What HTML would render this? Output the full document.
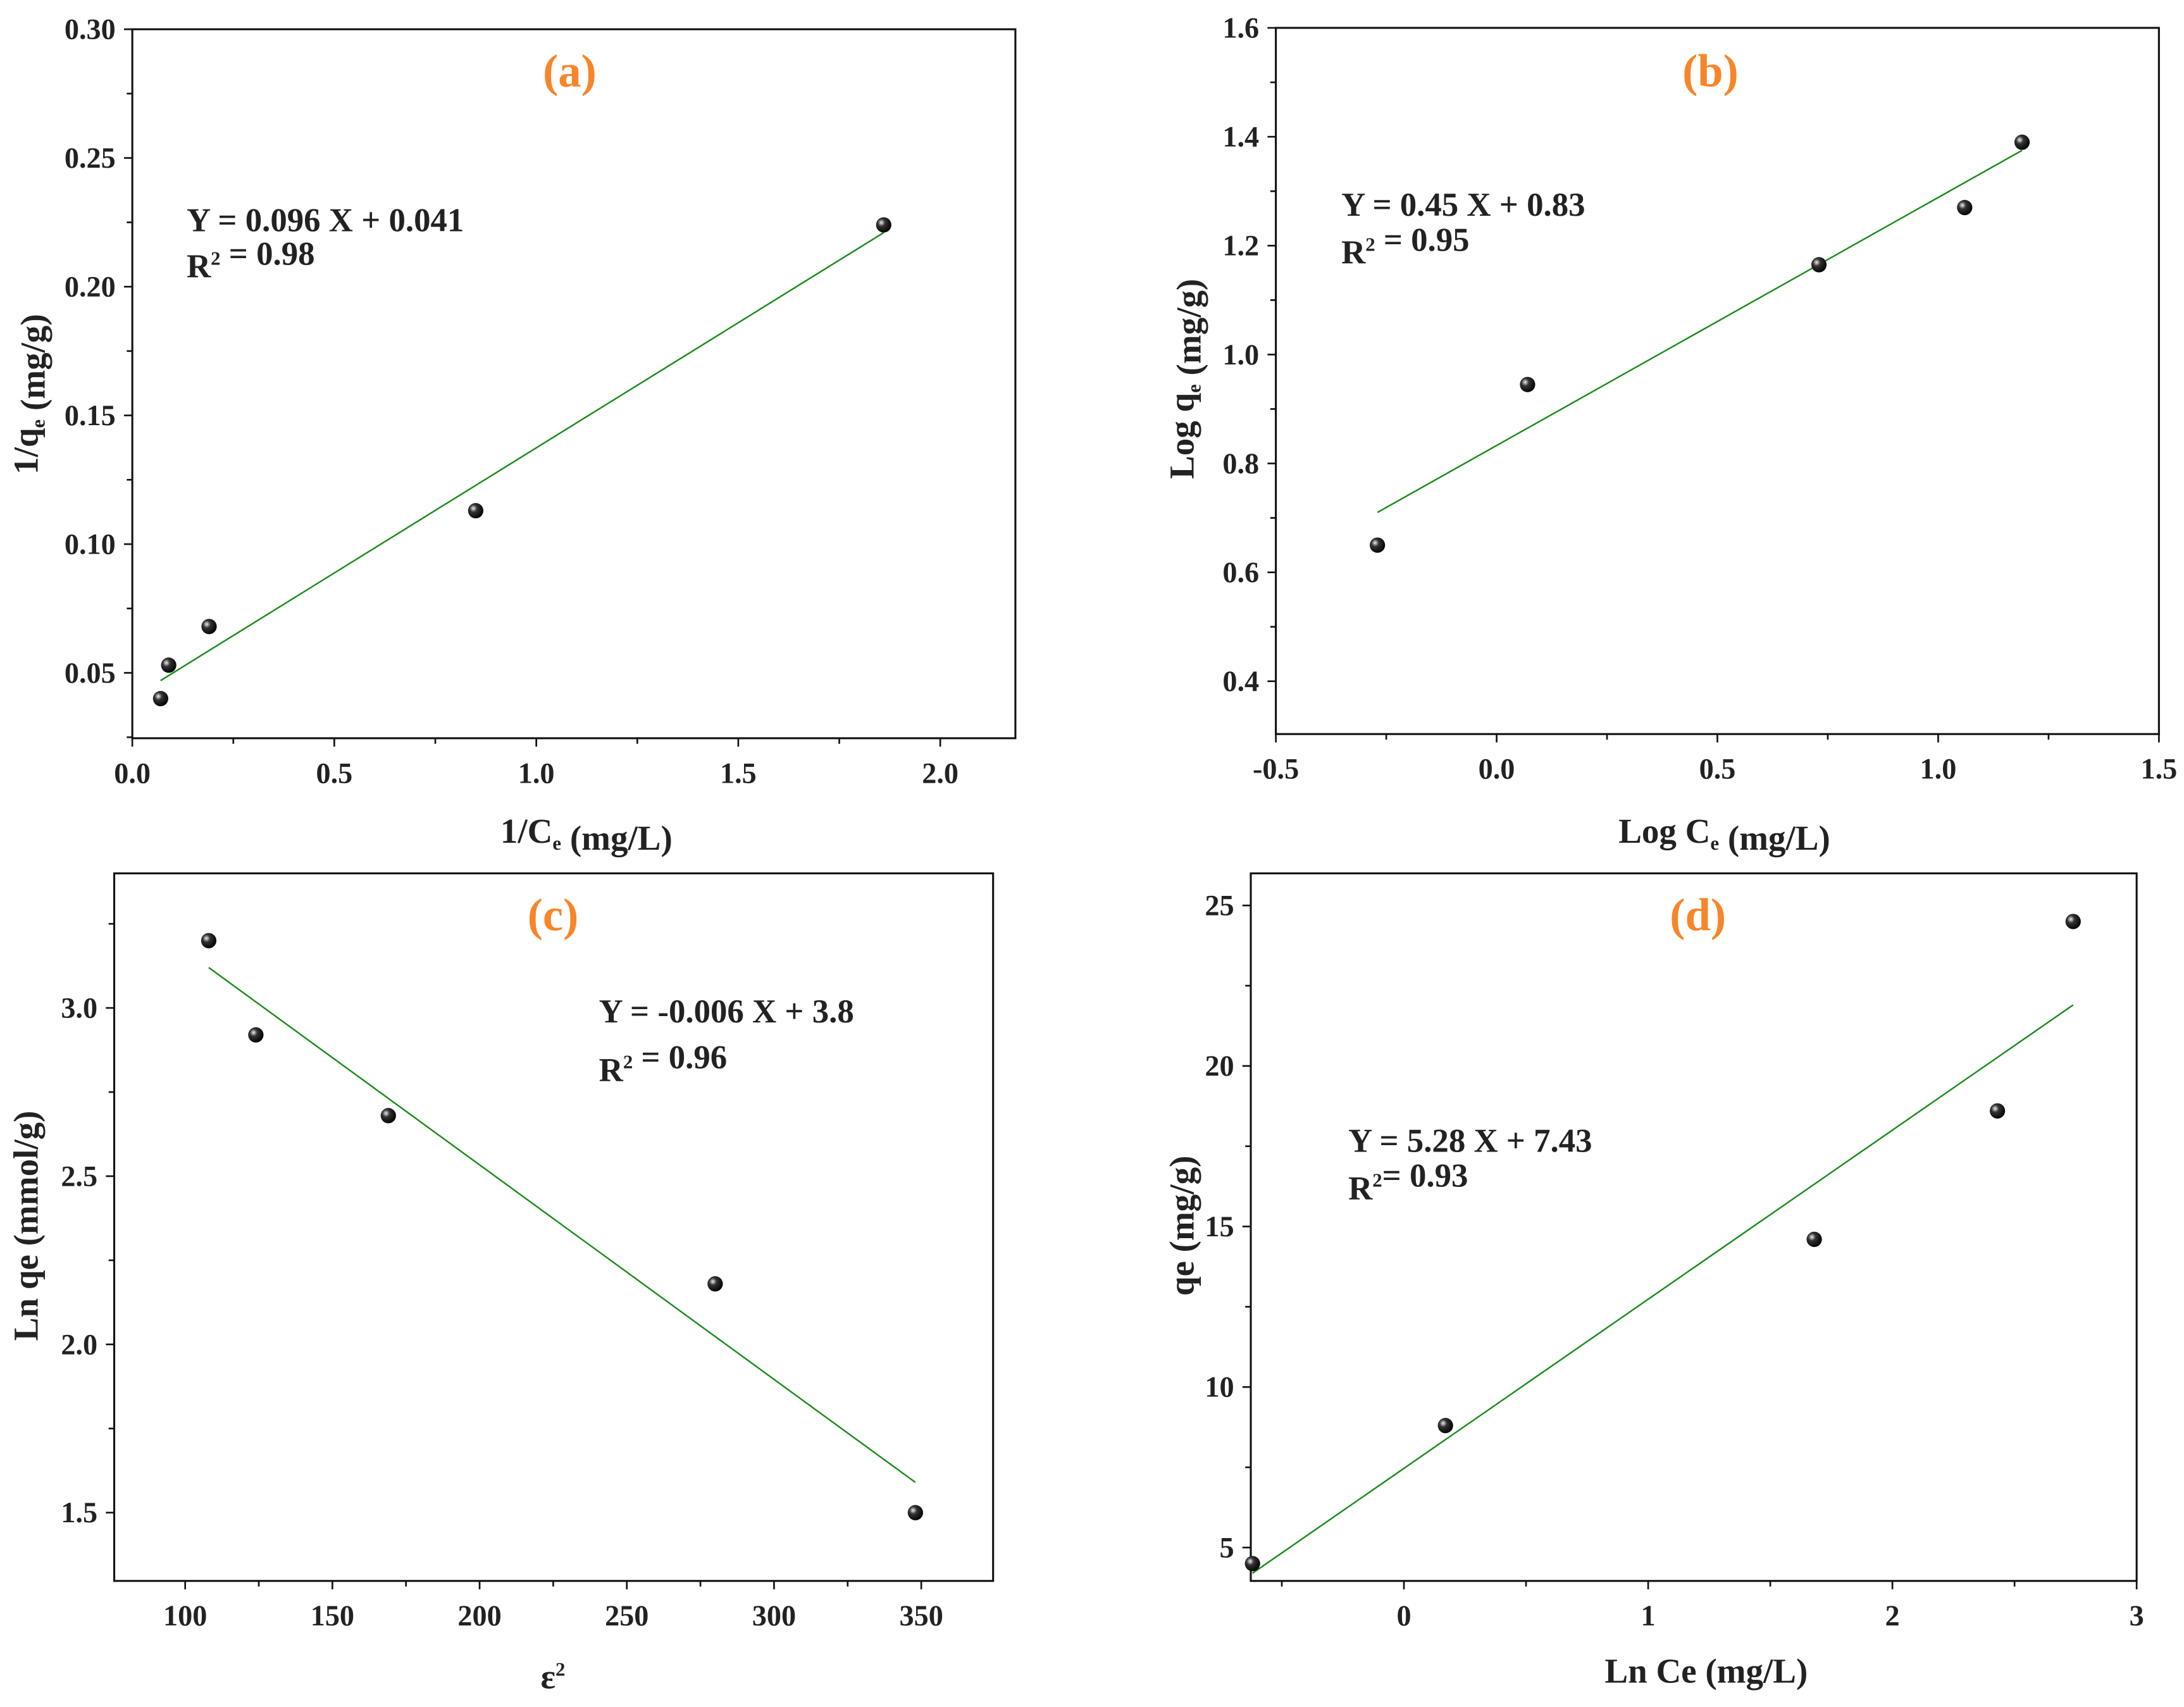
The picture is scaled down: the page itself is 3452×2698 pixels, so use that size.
<!DOCTYPE html>
<html><head><meta charset="utf-8"><style>
html,body{margin:0;padding:0;background:#fff}
svg{display:block}
text{font-family:"Liberation Serif",serif;font-weight:bold;fill:#222}
</style></head><body>
<svg id="s" width="3452" height="2698" viewBox="0 0 1568 1225.5" xmlns="http://www.w3.org/2000/svg">
<defs><radialGradient id="ball" cx="0.35" cy="0.35" r="0.7"><stop offset="0" stop-color="#eee"/><stop offset="0.35" stop-color="#333"/><stop offset="1" stop-color="#000"/></radialGradient></defs>
</svg>
<script>
// Panel a
const aX=[0.07,0.09,0.19,0.85,1.86];
const aY=[0.040,0.053,0.068,0.113,0.224];
const aFitX=[0.07,1.86];
const aFitY=[0.047,0.221];
const aXTicks=["0.0","0.5","1.0","1.5","2.0"];
const aYTicks=["0.05","0.10","0.15","0.20","0.25","0.30"];
// Panel b
const bX=[-0.27,0.07,0.73,1.06,1.19];
const bY=[0.65,0.945,1.165,1.27,1.39];
const bFitX=[-0.27,1.19];
const bFitY=[0.71,1.375];
const bXTicks=["-0.5","0.0","0.5","1.0","1.5"];
const bYTicks=["0.4","0.6","0.8","1.0","1.2","1.4","1.6"];
// Panel c
const cX=[108,124,169,280,348];
const cY=[3.2,2.92,2.68,2.18,1.50];
const cFitX=[108,348];
const cFitY=[3.12,1.59];
const cXTicks=["100","150","200","250","300","350"];
const cYTicks=["1.5","2.0","2.5","3.0"];
// Panel d
const dX=[-0.62,0.17,1.68,2.43,2.74];
const dY=[4.5,8.8,14.6,18.6,24.5];
const dFitX=[-0.62,2.74];
const dFitY=[4.2,21.9];
const dXTicks=["0","1","2","3"];
const dYTicks=["5","10","15","20","25"];

const svg=document.getElementById('s');
const NS='http://www.w3.org/2000/svg';
function mk(tag,at,parent){const e=document.createElementNS(NS,tag);for(const k in at)e.setAttribute(k,at[k]);(parent||svg).appendChild(e);return e;}

function panel(cfg){
  const g=mk('g',{});
  
  
  const sx=v=>cfg.L+(v-cfg.x0)/(cfg.x1-cfg.x0)*(cfg.R-cfg.L);
  const sy=v=>cfg.B-(v-cfg.y0)/(cfg.y1-cfg.y0)*(cfg.B-cfg.T);
  const box=mk('rect',{x:cfg.L,y:cfg.T,width:cfg.R-cfg.L,height:cfg.B-cfg.T,fill:'none',stroke:'#111','stroke-width':1.4},g);
  
  
  for(let v=cfg.xm0; v<=cfg.x1+1e-9; v+=cfg.xmStep){
    const px=sx(v); if(px<cfg.L-0.5) continue;
    const major=Math.abs(((v-cfg.xt0)/cfg.xtStep)-Math.round((v-cfg.xt0)/cfg.xtStep))<1e-6;
    const t=mk('line',{x1:px,x2:px,y1:cfg.B,y2:cfg.B+(major?6:4),stroke:'#111','stroke-width':1.2},g);
    
    
  }
  cfg.xticks.forEach((s,i)=>{
    const v=cfg.xt0+i*cfg.xtStep;
    const t=mk('text',{x:sx(v),y:cfg.B+32,'text-anchor':'middle','font-size':21},g);t.textContent=s;
    
    
  });
  for(let v=cfg.ym0; v<=cfg.y1+1e-9; v+=cfg.ymStep){
    const py=sy(v); if(py>cfg.B+0.5) continue;
    const major=Math.abs(((v-cfg.yt0)/cfg.ytStep)-Math.round((v-cfg.yt0)/cfg.ytStep))<1e-6;
    const t=mk('line',{x1:cfg.L,x2:cfg.L-(major?6:4),y1:py,y2:py,stroke:'#111','stroke-width':1.2},g);
    
    
  }
  cfg.yticks.forEach((s,i)=>{
    const v=cfg.yt0+i*cfg.ytStep;
    const t=mk('text',{x:cfg.L-12,y:sy(v)+7,'text-anchor':'end','font-size':21},g);t.textContent=s;
    
    
  });
  const fit=mk('line',{x1:sx(cfg.fx[0]),y1:sy(cfg.fy[0]),x2:sx(cfg.fx[1]),y2:sy(cfg.fy[1]),stroke:'#1a8a1a','stroke-width':1.1},g);
  
  
  cfg.xs.forEach((x,i)=>{
    const c=mk('circle',{cx:sx(x),cy:sy(cfg.ys[i]),r:5.5,fill:'url(#ball)'},g);
    
    
  });
  const tl=mk('text',{x:cfg.tx,y:cfg.ty,'text-anchor':'middle','font-size':33,style:'fill:#f7862a'},g);tl.textContent=cfg.title;
  
  
  const e1=mk('text',{x:cfg.ex,y:cfg.ey1,'font-size':24},g);e1.textContent=cfg.eq;
  
  
  const e2=mk('text',{x:cfg.ex,y:cfg.ey2,'font-size':24},g);e2.innerHTML=cfg.r2;
  
  
  const xt=mk('text',{x:cfg.xtx,y:cfg.xty,'text-anchor':'middle','font-size':25},g);xt.innerHTML=cfg.xtitle;
  
  
  const yt=mk('text',{x:0,y:0,'text-anchor':'middle','font-size':25,transform:`translate(${cfg.ytx},${cfg.yty}) rotate(-90)`},g);yt.innerHTML=cfg.ytitle;
  
  
}
const sub=s=>`<tspan dy="5" font-size="14">${s}</tspan><tspan dy="-5"></tspan>`;
const sup=s=>`<tspan dy="-9" font-size="14">${s}</tspan><tspan dy="9"></tspan>`;
panel({id:'a',L:95,R:729,T:21,B:530,x0:0,x1:2.186,y0:0.0246,y1:0.30,xs:aX,ys:aY,fx:aFitX,fy:aFitY,
 xticks:aXTicks,xt0:0,xtStep:0.5,xm0:0,xmStep:0.25,yticks:aYTicks,yt0:0.05,ytStep:0.05,ym0:0.025,ymStep:0.025,
 title:'(a)',tx:409,ty:62,eq:'Y = 0.096 X + 0.041',r2:'R'+sup('2')+' = 0.98',ex:134,ey1:166,ey2:199,
 xtitle:'1/C'+sub('e')+' (mg/L)',xtx:421,xty:605,ytitle:'1/q'+sub('e')+' (mg/g)',ytx:27,yty:283});
panel({id:'b',L:916,R:1550,T:20,B:527,x0:-0.5,x1:1.5,y0:0.303,y1:1.6,xs:bX,ys:bY,fx:bFitX,fy:bFitY,
 xticks:bXTicks,xt0:-0.5,xtStep:0.5,xm0:-0.5,xmStep:0.25,yticks:bYTicks,yt0:0.4,ytStep:0.2,ym0:0.3,ymStep:0.1,
 title:'(b)',tx:1228,ty:62,eq:'Y = 0.45 X + 0.83',r2:'R'+sup('2')+' = 0.95',ex:963,ey1:155,ey2:189,
 xtitle:'Log C'+sub('e')+'  (mg/L)',xtx:1238,xty:605,ytitle:'Log q'+sub('e')+' (mg/g)',ytx:857,yty:272});
panel({id:'c',L:82,R:713,T:627,B:1135,x0:75.9,x1:374.4,y0:1.297,y1:3.40,xs:cX,ys:cY,fx:cFitX,fy:cFitY,
 xticks:cXTicks,xt0:100,xtStep:50,xm0:75,xmStep:25,yticks:cYTicks,yt0:1.5,ytStep:0.5,ym0:1.25,ymStep:0.25,
 title:'(c)',tx:397,ty:668,eq:'Y = -0.006 X + 3.8',r2:'R'+sup('2')+' = 0.96',ex:430,ey1:734,ey2:776,
 xtitle:'ε'+sup('2'),xtx:397,xty:1212,ytitle:'Ln qe (mmol/g)',ytx:27,yty:880});
panel({id:'d',L:898,R:1534,T:627,B:1135,x0:-0.627,x1:3.0,y0:3.96,y1:26.0,xs:dX,ys:dY,fx:dFitX,fy:dFitY,
 xticks:dXTicks,xt0:0,xtStep:1,xm0:-0.5,xmStep:0.5,yticks:dYTicks,yt0:5,ytStep:5,ym0:5,ymStep:2.5,
 title:'(d)',tx:1219,ty:668,eq:'Y = 5.28 X + 7.43',r2:'R'+sup('2')+'= 0.93',ex:968,ey1:827,ey2:861,
 xtitle:'Ln Ce (mg/L)',xtx:1225,xty:1208,ytitle:'qe  (mg/g)',ytx:857,yty:880});
</script>
</body></html>
